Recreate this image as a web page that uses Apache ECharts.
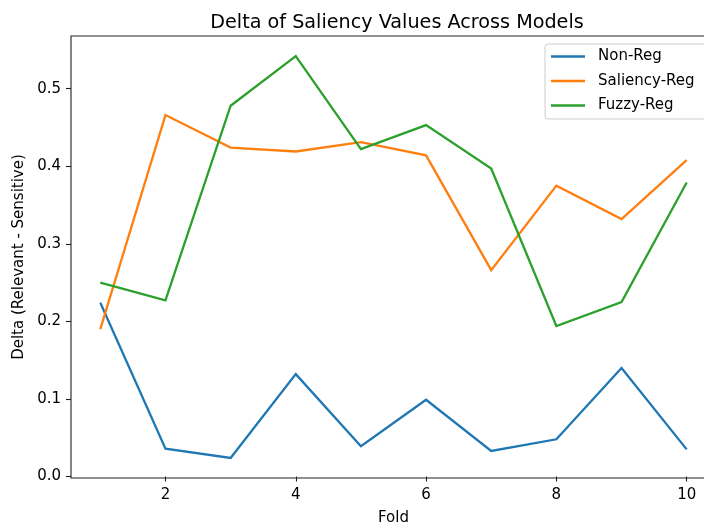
<!DOCTYPE html>
<html>
<head>
<meta charset="utf-8">
<script src="https://cdn.jsdelivr.net/npm/echarts@6/dist/echarts.min.js"></script>
<style>
  html, body { margin: 0; padding: 0; background: #fff; }
  #chart { width: 704px; height: 531px; }
</style>
</head>
<body>
<div id="chart"></div>
<script>
// Saliency delta per cross-validation fold
const folds = [1, 2, 3, 4, 5, 6, 7, 8, 9, 10];
const nonReg = [0.224, 0.036, 0.024, 0.132, 0.039, 0.099, 0.033, 0.048, 0.140, 0.035];
const saliencyReg = [0.190, 0.466, 0.424, 0.419, 0.431, 0.414, 0.266, 0.375, 0.332, 0.408];
const fuzzyReg = [0.250, 0.227, 0.478, 0.542, 0.422, 0.453, 0.397, 0.194, 0.225, 0.379];
const xTicks = [2, 4, 6, 8, 10];
const yTicks = [0.0, 0.1, 0.2, 0.3, 0.4, 0.5];

const seriesNames = ['Non-Reg', 'Saliency-Reg', 'Fuzzy-Reg'];
const seriesData = [nonReg, saliencyReg, fuzzyReg];
const colors = ['#1f77b4', '#ff7f0e', '#2ca02c'];

// 5% padding around the data range on both axes
const allVals = nonReg.concat(saliencyReg, fuzzyReg);
const yLo = Math.min(...allVals), yHi = Math.max(...allVals);
const yPad = (yHi - yLo) * 0.05;
const xPad = (folds[folds.length - 1] - folds[0]) * 0.05;

const font = 'DejaVu Sans';
const chart = echarts.init(document.getElementById('chart'), null, { renderer: 'canvas' });

chart.setOption({
  backgroundColor: '#fff',
  animation: false,
  color: colors,
  textStyle: { fontFamily: font, color: '#000' },
  title: {
    text: 'Delta of Saliency Values Across Models',
    left: 392, top: 9, textAlign: 'center',
    textStyle: { fontFamily: font, fontSize: 19.2, fontWeight: 'normal', color: '#000' }
  },
  grid: {
    left: 71, top: 36, width: 645, height: 442,
    outerBoundsMode: 'none',
    containLabel: false,
    show: true, borderColor: '#222', borderWidth: 1.1, backgroundColor: 'transparent'
  },
  legend: {
    orient: 'vertical',
    left: 545, top: 44,
    padding: [5, 14, 6, 6],
    itemGap: 9.5,
    itemWidth: 34, itemHeight: 2.4,
    icon: 'rect',
    backgroundColor: 'rgba(255,255,255,0.8)',
    borderColor: '#cccccc', borderWidth: 1, borderRadius: 3,
    textStyle: { fontFamily: font, fontSize: 15, color: '#000', lineHeight: 15, padding: [0, 0, 0, 8] },
    data: seriesNames
  },
  xAxis: {
    type: 'value',
    min: folds[0] - xPad, max: folds[folds.length - 1] + xPad,
    name: 'Fold', nameLocation: 'middle', nameGap: 33,
    nameTextStyle: { fontFamily: font, fontSize: 15, color: '#000' },
    axisLine: { show: false },
    splitLine: { show: false },
    axisTick: { show: true, inside: false, length: 5, customValues: xTicks, lineStyle: { color: '#222', width: 1.1 } },
    axisLabel: { customValues: xTicks, margin: 10, fontFamily: font, fontSize: 15, color: '#000' }
  },
  yAxis: {
    type: 'value',
    min: yLo - yPad, max: yHi + yPad,
    name: 'Delta (Relevant - Sensitive)', nameLocation: 'middle', nameGap: 44, nameRotate: 90,
    nameTextStyle: { fontFamily: font, fontSize: 15, color: '#000' },
    axisLine: { show: false },
    splitLine: { show: false },
    axisTick: { show: true, inside: false, length: 5, customValues: yTicks, lineStyle: { color: '#222', width: 1.1 } },
    axisLabel: {
      customValues: yTicks, margin: 10, fontFamily: font, fontSize: 15, color: '#000',
      formatter: v => v.toFixed(1)
    }
  },
  series: seriesNames.map((name, i) => ({
    name: name,
    type: 'line',
    data: folds.map((f, j) => [f, seriesData[i][j]]),
    showSymbol: false,
    symbol: 'none',
    lineStyle: { color: colors[i], width: 2.3, cap: 'butt', join: 'miter' },
    itemStyle: { color: colors[i] },
    z: 2 + i
  }))
});
</script>
</body>
</html>
